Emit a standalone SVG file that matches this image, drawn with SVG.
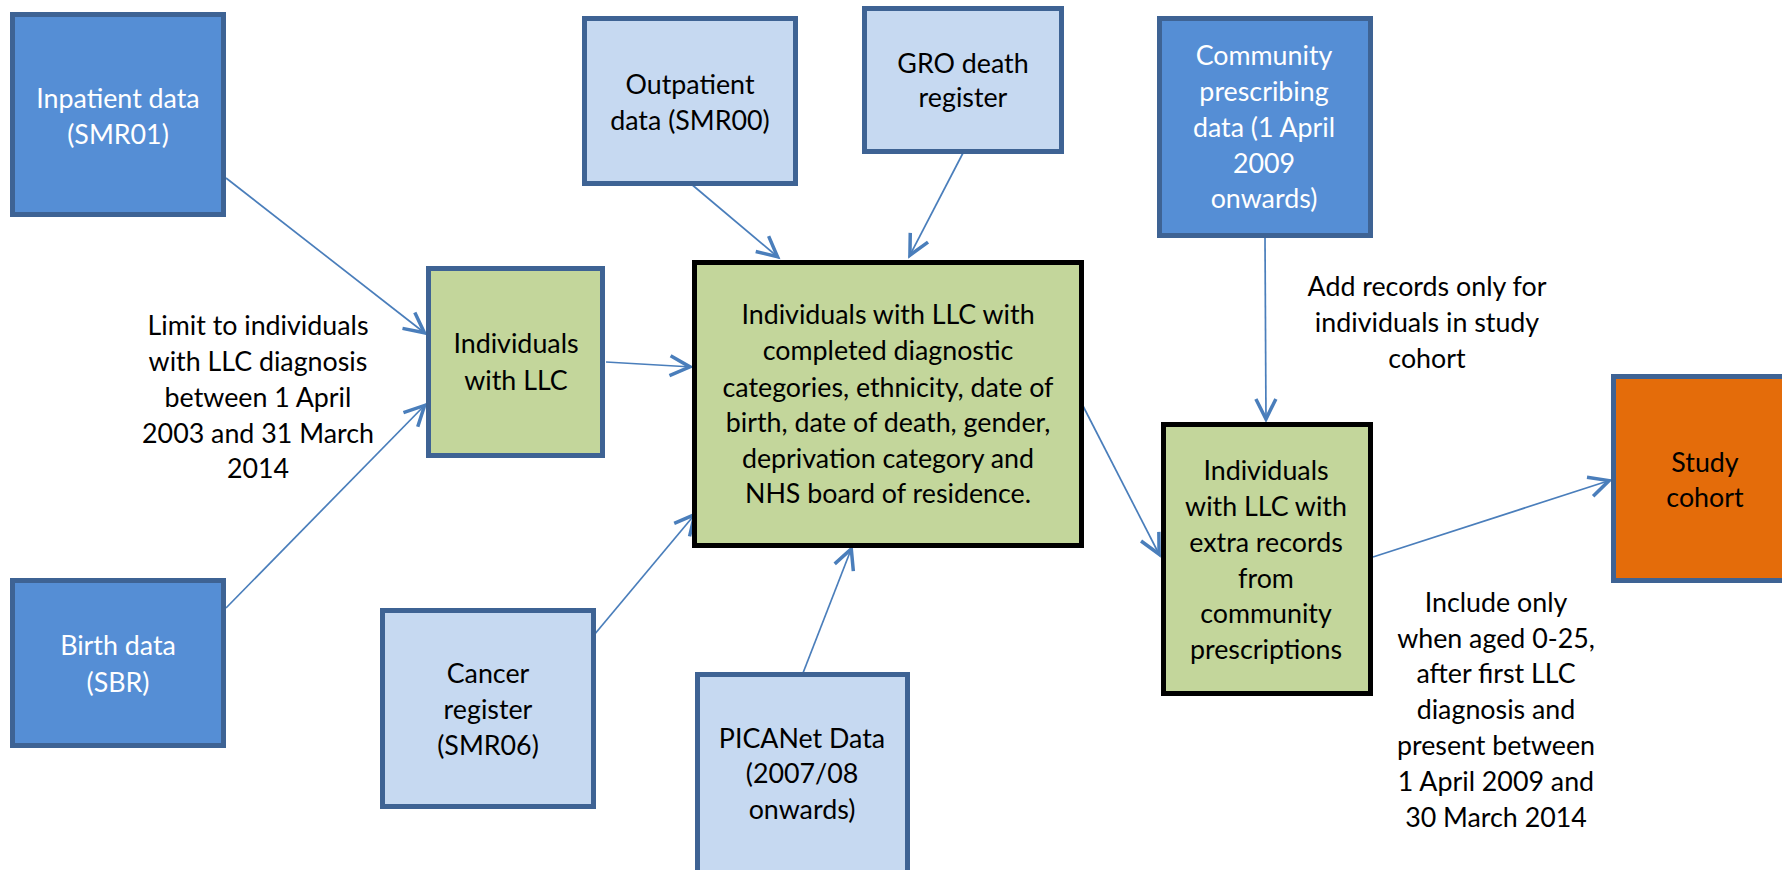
<svg xmlns="http://www.w3.org/2000/svg" width="1782" height="870" viewBox="0 0 1782 870">
<style>
.b{stroke:#3E6394;stroke-width:5}
.dk{fill:#558ED5}
.lt{fill:#C6D9F1}
.gr{fill:#C3D69B}
.blk{stroke:#000;stroke-width:5}
.or{fill:#E46C0A}
text{font-family:Lato,"Liberation Sans",sans-serif;font-size:26.8px;text-anchor:middle;fill:#000}
.w{fill:#fff}
.c line{stroke:#4A7EBB;stroke-width:1.7;marker-end:url(#a)}
</style>
<defs>
<marker id="a" markerUnits="userSpaceOnUse" markerWidth="40" markerHeight="40" viewBox="-30 -20 40 40" refX="2" refY="0" orient="auto" overflow="visible">
<path d="M-20,-10 L0,0 L-20,10" fill="none" stroke="#4A7EBB" stroke-width="3.5"/>
</marker>
</defs>
<rect width="1782" height="870" fill="#fff"/>
<g class="c" id="connectors">
<line x1="226" y1="178" x2="426" y2="334"/>
<line x1="226" y1="608" x2="426" y2="404"/>
<line x1="606" y1="362" x2="692" y2="367"/>
<line x1="690" y1="183" x2="779" y2="258"/>
<line x1="963" y1="153" x2="909" y2="257"/>
<line x1="594" y1="635" x2="696" y2="513"/>
<line x1="803" y1="673" x2="852" y2="547"/>
<line x1="1082" y1="404" x2="1160" y2="556"/>
<line x1="1265" y1="237" x2="1266" y2="421"/>
<line x1="1373" y1="557" x2="1611" y2="480"/>
</g>
<g id="inpatient">
<rect class="b dk" x="12.5" y="14.5" width="211" height="200"/>
<text class="w" x="118" y="108">Inpatient data</text>
<text class="w" x="118" y="144">(SMR01)</text>
</g>
<g id="birth">
<rect class="b dk" x="12.5" y="580.5" width="211" height="165"/>
<text class="w" x="118" y="655">Birth data</text>
<text class="w" x="118" y="692">(SBR)</text>
</g>
<g id="llc">
<rect class="b gr" x="428.5" y="268.5" width="174" height="187"/>
<text x="516" y="353">Individuals</text>
<text x="516" y="390">with LLC</text>
</g>
<g id="limit-label">
<text x="258" y="335">Limit to individuals</text>
<text x="258" y="371">with LLC diagnosis</text>
<text x="258" y="407">between 1 April</text>
<text x="258" y="443">2003 and 31 March</text>
<text x="258" y="478">2014</text>
</g>
<g id="outpatient">
<rect class="b lt" x="584.5" y="18.5" width="211" height="165"/>
<text x="690" y="94">Outpatient</text>
<text x="690" y="130">data (SMR00)</text>
</g>
<g id="gro">
<rect class="b lt" x="864.5" y="8.5" width="197" height="143"/>
<text x="963" y="73">GRO death</text>
<text x="963" y="107">register</text>
</g>
<g id="main">
<rect class="blk gr" x="694.5" y="262.5" width="387" height="283"/>
<text x="888" y="324">Individuals with LLC with</text>
<text x="888" y="360">completed diagnostic</text>
<text x="888" y="397">categories, ethnicity, date of</text>
<text x="888" y="432">birth, date of death, gender,</text>
<text x="888" y="468">deprivation category and</text>
<text x="888" y="503">NHS board of residence.</text>
</g>
<g id="cancer">
<rect class="b lt" x="382.5" y="610.5" width="211" height="196"/>
<text x="488" y="683">Cancer</text>
<text x="488" y="719">register</text>
<text x="488" y="755">(SMR06)</text>
</g>
<g id="picanet">
<rect class="b lt" x="697.5" y="674.5" width="210" height="240"/>
<text x="802" y="748">PICANet Data</text>
<text x="802" y="783">(2007/08</text>
<text x="802" y="819">onwards)</text>
</g>
<g id="community">
<rect class="b dk" x="1159.5" y="18.5" width="211" height="217"/>
<text class="w" x="1264" y="65">Community</text>
<text class="w" x="1264" y="101">prescribing</text>
<text class="w" x="1264" y="137">data (1 April</text>
<text class="w" x="1264" y="173">2009</text>
<text class="w" x="1264" y="208">onwards)</text>
</g>
<g id="add-label">
<text x="1427" y="296">Add records only for</text>
<text x="1427" y="332">individuals in study</text>
<text x="1427" y="368">cohort</text>
</g>
<g id="extra">
<rect class="blk gr" x="1163.5" y="424.5" width="207" height="269"/>
<text x="1266" y="480">Individuals</text>
<text x="1266" y="516">with LLC with</text>
<text x="1266" y="552">extra records</text>
<text x="1266" y="588">from</text>
<text x="1266" y="623">community</text>
<text x="1266" y="659">prescriptions</text>
</g>
<g id="study">
<rect class="b or" x="1613.5" y="376.5" width="200" height="204"/>
<text x="1705" y="472">Study</text>
<text x="1705" y="507">cohort</text>
</g>
<g id="include-label">
<text x="1496" y="612">Include only</text>
<text x="1496" y="648">when aged 0-25,</text>
<text x="1496" y="683">after first LLC</text>
<text x="1496" y="719">diagnosis and</text>
<text x="1496" y="755">present between</text>
<text x="1496" y="791">1 April 2009 and</text>
<text x="1496" y="827">30 March 2014</text>
</g>
</svg>
